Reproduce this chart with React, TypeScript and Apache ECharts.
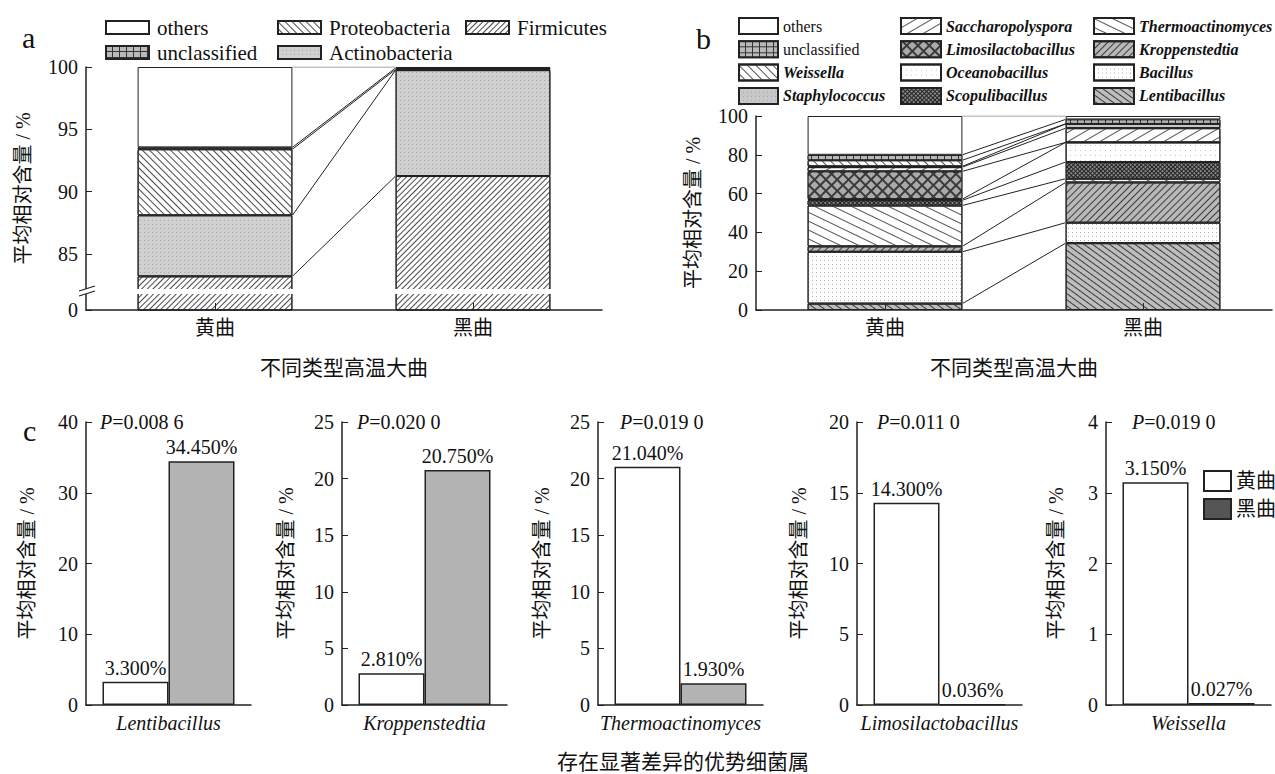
import React, { useEffect, useRef } from 'react';
import * as echarts from 'echarts';

const SERIF = "'Liberation Serif', 'Times New Roman', 'Noto Sans CJK SC', serif";

// ---------- Panel a (phylum level), stacked bottom -> top ----------
const qu = ['黄曲', '黑曲'];
const aNames = ['Firmicutes', 'Actinobacteria', 'Proteobacteria', 'unclassified', 'others'];
const aFirmicutes = [83.2, 91.25];
const aActinobacteria = [4.9, 8.5];
const aProteobacteria = [5.3, 0.05];
const aUnclassified = [0.15, 0.12];
const aOthers = [6.45, 0.08];
const aValues = [aFirmicutes, aActinobacteria, aProteobacteria, aUnclassified, aOthers];
const aTicks = [85, 90, 95, 100];
const aBreakFloor = 80.5; // axis value shown as "0" under the axis break

// ---------- Panel b (genus level), stacked bottom -> top ----------
const bNames = [
  'Lentibacillus', 'Bacillus', 'Kroppenstedtia', 'Thermoactinomyces', 'Scopulibacillus',
  'Oceanobacillus', 'Limosilactobacillus', 'Saccharopolyspora', 'Staphylococcus',
  'Weissella', 'unclassified', 'others',
];
const bLentibacillus = [3.3, 34.45];
const bBacillus = [26.7, 10.55];
const bKroppenstedtia = [2.81, 20.75];
const bThermoactinomyces = [21.04, 1.93];
const bScopulibacillus = [2.7, 8.6];
const bOceanobacillus = [0.6, 10.1];
const bLimosilactobacillus = [14.3, 0.036];
const bSaccharopolyspora = [2.2, 7.3];
const bStaphylococcus = [0.4, 2.2];
const bWeissella = [3.15, 0.027];
const bUnclassified = [2.8, 2.3];
const bOthers = [20.0, 1.76];
const bValues = [
  bLentibacillus, bBacillus, bKroppenstedtia, bThermoactinomyces, bScopulibacillus,
  bOceanobacillus, bLimosilactobacillus, bSaccharopolyspora, bStaphylococcus,
  bWeissella, bUnclassified, bOthers,
];
const bTicksInterval = 20;

// ---------- Panel c (significant genera) ----------
const cGenera = ['Lentibacillus', 'Kroppenstedtia', 'Thermoactinomyces', 'Limosilactobacillus', 'Weissella'];
const cHuang = [3.3, 2.81, 21.04, 14.3, 3.15];
const cHei = [34.45, 20.75, 1.93, 0.036, 0.027];
const cPValues = ['0.008 6', '0.020 0', '0.019 0', '0.011 0', '0.019 0'];
const cYMax = [40, 25, 25, 20, 4];
const cYInterval = [10, 5, 5, 5, 1];

// ---------- layout ----------
const cGridLeft = [86, 342, 598, 857, 1106];
const cNameGap = [49, 46, 46, 48, 40];
const cPLeft = [100, 357, 620, 877, 1132];

const hatch = (rotation: number, gap: number, color: string, w = 1) => ({
  symbol: 'rect', symbolSize: 1, dashArrayX: [1, 0], dashArrayY: [w, gap], rotation, color,
});
const dots = (step: number, color: string) => ({
  symbol: 'rect', symbolSize: 1, dashArrayX: [1, step], dashArrayY: [1, step], color,
});
const cells = (w: number, h: number, gap: number, color: string, rotation = 0) => ({
  symbol: 'rect', symbolSize: 1, dashArrayX: [w, gap], dashArrayY: [h, gap], rotation, color,
});

const styleOf: Record<string, any> = {
  Firmicutes: { color: '#fff', decal: hatch(-Math.PI / 4, 2.2, '#4a4a4a', 0.9) },
  Actinobacteria: { color: '#d0d0d0', decal: dots(3, '#a8a8a8') },
  Proteobacteria: { color: '#fff', decal: hatch(Math.PI / 4, 3.5, '#4a4a4a', 0.9) },
  unclassified: { color: '#333', decal: cells(6, 5, 1, '#b9b9b9') },
  others: { color: '#fff' },
  Weissella: { color: '#fff', decal: hatch(Math.PI / 4, 5, '#555', 0.9) },
  Staphylococcus: { color: '#c8c8c8', decal: dots(3, '#a5a5a5') },
  Saccharopolyspora: { color: '#fff', decal: hatch(-Math.PI / 6, 7, '#555', 0.9) },
  Limosilactobacillus: { color: '#3a3a3a', decal: cells(6, 6, 1.3, '#aaaaaa', Math.PI / 4) },
  Oceanobacillus: { color: '#fff', decal: dots(4, '#c4c4c4') },
  Scopulibacillus: { color: '#222', decal: cells(2, 2, 1, '#8a8a8a', Math.PI / 4) },
  Thermoactinomyces: { color: '#fff', decal: hatch(Math.PI / 7, 7, '#555', 0.9) },
  Kroppenstedtia: { color: '#b8b8b8', decal: hatch(-Math.PI / 4, 3.5, '#3a3a3a', 0.9) },
  Bacillus: { color: '#fff', decal: dots(3, '#b0b0b0') },
  Lentibacillus: { color: '#bdbdbd', decal: hatch(Math.PI / 5, 4, '#3a3a3a', 0.9) },
};

const italicSet = new Set(bNames.filter((n) => n !== 'others' && n !== 'unclassified'));

const cumulative = (vals: number[][]) => {
  const out: number[][] = [];
  const run = [0, 0];
  vals.forEach((v) => {
    run[0] += v[0];
    run[1] += v[1];
    out.push([run[0], run[1]]);
  });
  return out;
};

const axisLineStyle = { lineStyle: { color: '#222', width: 1.5 } };

function buildOption(): any {
  const series: any[] = [];
  // Panel a bars
  aNames.forEach((n, i) => {
    series.push({
      type: 'bar', name: n, stack: 'a', xAxisIndex: 0, yAxisIndex: 0, barWidth: '60%',
      data: aValues[i],
      itemStyle: { ...styleOf[n], borderColor: '#222', borderWidth: 1 },
    });
  });
  // Panel a connecting lines
  cumulative(aValues).forEach((c, i) => {
    series.push({
      type: 'line', xAxisIndex: 1, yAxisIndex: 0, symbol: 'none', silent: true, z: 3,
      lineStyle: { color: i === aValues.length - 1 ? '#888' : '#222', width: 1 },
      data: [[0.8, c[0]], [1.2, c[1]]],
    });
  });
  // Panel b bars
  bNames.forEach((n, i) => {
    series.push({
      type: 'bar', name: n, stack: 'b', xAxisIndex: 2, yAxisIndex: 1, barWidth: '60%',
      data: bValues[i],
      itemStyle: { ...styleOf[n], borderColor: '#222', borderWidth: 1 },
    });
  });
  cumulative(bValues).forEach((c, i) => {
    series.push({
      type: 'line', xAxisIndex: 3, yAxisIndex: 1, symbol: 'none', silent: true, z: 3,
      lineStyle: { color: i === bValues.length - 1 ? '#888' : '#222', width: 1 },
      data: [[0.8, c[0]], [1.2, c[1]]],
    });
  });
  // Panel c
  const valLabel = {
    show: true, position: 'top', distance: 4, color: '#111', fontSize: 20, fontFamily: SERIF,
    formatter: (p: any) => Number(p.value).toFixed(3) + '%',
  };
  cGenera.forEach((g, i) => {
    series.push({
      type: 'bar', name: '黄曲', xAxisIndex: 4 + i, yAxisIndex: 2 + i, barWidth: '40%', barGap: '0%',
      data: [cHuang[i]], itemStyle: { color: '#fff', borderColor: '#222', borderWidth: 1.5 }, label: valLabel,
    });
    series.push({
      type: 'bar', name: '黑曲', xAxisIndex: 4 + i, yAxisIndex: 2 + i, barWidth: '40%', barGap: '0%',
      data: [cHei[i]], itemStyle: { color: '#b3b3b3', borderColor: '#222', borderWidth: 1.5 }, label: valLabel,
    });
  });

  const grids: any[] = [
    { left: 86, top: 67, width: 516, height: 243 },
    { left: 756, top: 116, width: 516, height: 194 },
    ...cGridLeft.map((l) => ({ left: l, top: 422, width: 165, height: 283 })),
  ];

  const catAxis = (gridIndex: number, name: string) => ({
    type: 'category', gridIndex, data: qu, z: 5,
    axisLine: axisLineStyle,
    axisTick: { show: true, inside: true, alignWithLabel: true, length: 7, lineStyle: { color: '#222' } },
    axisLabel: { fontSize: 20, fontFamily: SERIF, color: '#111', margin: 8 },
    name, nameLocation: 'middle', nameGap: 47,
    nameTextStyle: { fontSize: 21, fontFamily: SERIF, color: '#111' },
  });
  const hiddenX = (gridIndex: number) => ({ type: 'value', gridIndex, min: 0, max: 2, show: false });

  const xAxis: any[] = [
    catAxis(0, '不同类型高温大曲'), hiddenX(0),
    catAxis(1, '不同类型高温大曲'), hiddenX(1),
    ...cGenera.map((g, i) => ({
      type: 'category', gridIndex: 2 + i, data: [g],
      axisLine: axisLineStyle, axisTick: { show: false },
      axisLabel: { fontSize: 20, fontFamily: SERIF, fontStyle: 'italic', color: '#111', margin: 8 },
    })),
  ];

  const yName = {
    name: '平均相对含量 / %', nameLocation: 'middle',
    nameTextStyle: { fontSize: 20, fontFamily: SERIF, color: '#111' },
  };
  const aCustom = [aBreakFloor, ...aTicks];
  const yAxis: any[] = [
    {
      type: 'value', gridIndex: 0, min: aBreakFloor, max: 100, ...yName, nameGap: 53,
      axisLine: { show: true, ...axisLineStyle }, splitLine: { show: false },
      axisTick: { show: true, inside: true, length: 6, customValues: aCustom, lineStyle: { color: '#222' } },
      axisLabel: {
        fontSize: 20, fontFamily: SERIF, color: '#111', margin: 8, customValues: aCustom,
        formatter: (v: number) => (v < aTicks[0] - 4 ? '0' : String(v)),
      },
    },
    {
      type: 'value', gridIndex: 1, min: 0, max: 100, interval: bTicksInterval, ...yName, nameGap: 53,
      axisLine: { show: true, ...axisLineStyle }, splitLine: { show: false },
      axisTick: { show: true, inside: true, length: 6, lineStyle: { color: '#222' } },
      axisLabel: { fontSize: 20, fontFamily: SERIF, color: '#111', margin: 8 },
    },
    ...cGenera.map((g, i) => ({
      type: 'value', gridIndex: 2 + i, min: 0, max: cYMax[i], interval: cYInterval[i], ...yName, nameGap: cNameGap[i],
      axisLine: { show: true, ...axisLineStyle }, splitLine: { show: false },
      axisTick: { show: true, inside: true, length: 6, lineStyle: { color: '#222' } },
      axisLabel: { fontSize: 20, fontFamily: SERIF, color: '#111', margin: 8 },
    })),
  ];

  const legA = (left: number, data: string[]) => ({
    orient: 'vertical', left, top: 17, padding: 0, itemGap: 4, itemWidth: 43, itemHeight: 13,
    icon: 'rect', selectedMode: false, data,
    textStyle: { fontSize: 21, lineHeight: 21, fontFamily: SERIF, color: '#111', padding: [0, 0, 0, 3] },
  });
  const legB = (left: number, itemWidth: number, data: string[]) => ({
    orient: 'vertical', left, top: 17, padding: 0, itemGap: 5.3, itemWidth, itemHeight: 16,
    icon: 'rect', selectedMode: false, data,
    formatter: (n: string) => (italicSet.has(n) ? `{i|${n}}` : n),
    textStyle: {
      fontSize: 16, lineHeight: 16, fontFamily: SERIF, color: '#111',
      rich: { i: { fontSize: 16, lineHeight: 16, fontFamily: SERIF, fontStyle: 'italic', fontWeight: 'bold', color: '#111' } },
    },
  });

  const legend: any[] = [
    legA(105, ['others', 'unclassified']),
    legA(277, ['Proteobacteria', 'Actinobacteria']),
    legA(465, ['Firmicutes']),
    legB(738, 39, ['others', 'unclassified', 'Weissella', 'Staphylococcus']),
    legB(900, 40, ['Saccharopolyspora', 'Limosilactobacillus', 'Oceanobacillus', 'Scopulibacillus']),
    legB(1093, 40, ['Thermoactinomyces', 'Kroppenstedtia', 'Bacillus', 'Lentibacillus']),
    {
      orient: 'vertical', left: 1203, top: 470, padding: 0, itemGap: 6, itemWidth: 27, itemHeight: 20,
      icon: 'rect', selectedMode: false,
      data: [{ name: '黄曲' }, { name: '黑曲', itemStyle: { color: '#555' } }],
      textStyle: { fontSize: 20, lineHeight: 20, fontFamily: SERIF, color: '#111' },
    },
  ];

  const txt = (text: string, x: number, y: number, fontSize: number, align = 'left', extra: any = {}) => ({
    type: 'text', x, y, silent: true, z: 10,
    style: { text, fontSize, fontFamily: SERIF, fill: '#111', textAlign: align, textVerticalAlign: 'middle', ...extra },
  });

  const graphic: any[] = [
    txt('a', 22, 37, 30),
    txt('b', 696, 38, 30),
    txt('c', 23, 430, 30),
    txt('存在显著差异的优势细菌属', 683, 762, 21, 'center'),
    ...cPValues.map((p, i) =>
      txt(`{i|P}=${p}`, cPLeft[i], 422, 20, 'left', {
        rich: { i: { fontStyle: 'italic', fontSize: 20, fontFamily: SERIF, fill: '#111' } },
      })),
    // axis break in panel a
    { type: 'rect', silent: true, z: 20, shape: { x: 88, y: 289, width: 520, height: 5 }, style: { fill: '#fff' } },
    { type: 'rect', silent: true, z: 20, shape: { x: 84, y: 289, width: 7, height: 5 }, style: { fill: '#fff' } },
    { type: 'line', silent: true, z: 21, shape: { x1: 79, y1: 291, x2: 95, y2: 286 }, style: { stroke: '#222', lineWidth: 1.3 } },
    { type: 'line', silent: true, z: 21, shape: { x1: 79, y1: 296, x2: 95, y2: 291 }, style: { stroke: '#222', lineWidth: 1.3 } },
  ];

  return {
    animation: false,
    backgroundColor: '#fff',
    textStyle: { fontFamily: SERIF },
    grid: grids,
    xAxis,
    yAxis,
    legend,
    series,
    graphic,
  };
}

export default function App() {
  const ref = useRef<HTMLDivElement>(null);
  useEffect(() => {
    if (!ref.current) return;
    const chart = echarts.init(ref.current, undefined, { renderer: 'svg' });
    chart.setOption(buildOption());
    return () => chart.dispose();
  }, []);
  return (
    <div
      ref={ref}
      style={{ position: 'absolute', left: 0, top: 0, width: 1275, height: 774, background: '#fff' }}
    />
  );
}
